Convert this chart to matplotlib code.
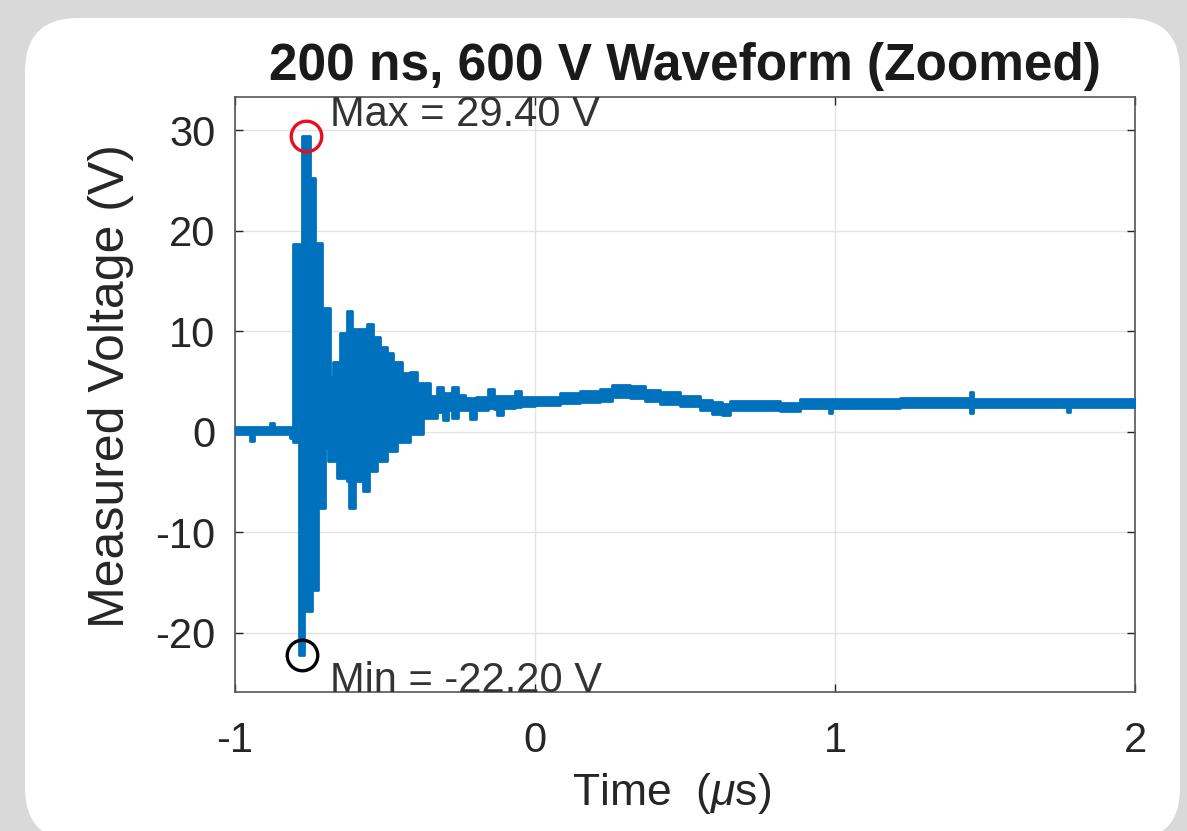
import matplotlib
matplotlib.use('Agg')
import matplotlib.pyplot as plt
from matplotlib.patches import FancyBboxPatch
import numpy as np

# envelope of the measured waveform (step segments)
t_us = [-1.000, -0.950, -0.937, -0.883, -0.870, -0.817, -0.807, -0.787, -0.777, -0.770,
        -0.750, -0.743, -0.733, -0.723, -0.710, -0.700, -0.690, -0.683, -0.673, -0.660,
        -0.650, -0.627, -0.620, -0.610, -0.600, -0.573, -0.560, -0.553, -0.540, -0.527,
        -0.517, -0.493, -0.473, -0.460, -0.443, -0.417, -0.393, -0.373, -0.350, -0.327,
        -0.307, -0.290, -0.277, -0.257, -0.233, -0.217, -0.197, -0.157, -0.137, -0.127,
        -0.107, -0.067, -0.047, 0.000, 0.083, 0.150, 0.217, 0.257, 0.317, 0.367,
        0.417, 0.483, 0.550, 0.590, 0.623, 0.650, 0.750, 0.817, 0.883, 0.980,
        0.990, 1.217, 1.450, 1.460, 1.773, 1.783, 2.000]
v_lo = [-0.25, -0.9, -0.25, -0.25, -0.25, -0.6, -1.0, -22.2, -22.2, -17.8,
        -17.8, -15.8, -15.8, -7.6, -7.6, -1.6, -2.9, -2.9, -2.9, -4.6,
        -4.6, -4.9, -7.6, -7.6, -4.9, -5.9, -5.9, -3.9, -3.9, -2.9,
        -2.9, -1.9, -1.9, -1.0, -1.0, -0.2, -0.2, 1.4, 1.4, 2.0,
        1.2, 2.2, 1.4, 2.2, 2.2, 1.3, 2.2, 2.4, 2.3, 1.7,
        2.4, 2.5, 2.6, 2.7, 2.9, 3.0, 3.1, 3.5, 3.4, 3.1,
        2.8, 2.6, 2.2, 1.8, 1.7, 2.2, 2.2, 2.1, 2.4, 1.9,
        2.4, 2.5, 1.9, 2.5, 2.0, 2.5, 2.5]
v_hi = [0.45, 0.45, 0.45, 0.9, 0.45, 0.45, 18.7, 18.7, 29.4, 29.4,
        25.2, 25.2, 18.8, 18.8, 12.3, 12.3, 12.3, 5.4, 6.9, 6.9,
        9.8, 12.0, 12.0, 10.2, 10.2, 10.2, 10.7, 10.7, 9.4, 9.4,
        8.4, 7.8, 6.9, 6.9, 5.8, 5.9, 4.8, 4.8, 3.6, 4.4,
        3.8, 3.8, 4.4, 3.7, 3.4, 3.4, 3.5, 4.2, 3.6, 3.6,
        3.6, 4.0, 3.5, 3.5, 3.8, 4.0, 4.2, 4.6, 4.5, 4.1,
        3.9, 3.6, 3.2, 3.0, 2.8, 3.1, 3.1, 2.9, 3.3, 3.3,
        3.3, 3.4, 3.9, 3.3, 3.3, 3.3, 3.3]

t_max, v_max = -0.763, 29.40
t_min, v_min = -0.777, -22.20

plt.rcParams['font.family'] = ['Liberation Sans', 'DejaVu Sans']
plt.rcParams['mathtext.fontset'] = 'custom'
plt.rcParams['mathtext.it'] = 'Liberation Sans:italic'
plt.rcParams['mathtext.rm'] = 'Liberation Sans'
plt.rcParams['axes.unicode_minus'] = False

fig = plt.figure(figsize=(11.87, 8.31), dpi=100)
fig.patch.set_facecolor('#d9d9d9')

# white rounded panel behind the axes
panel = FancyBboxPatch((25 / 1187, -10 / 831), (1180 - 25) / 1187, (831 - 18 + 10) / 831,
                       boxstyle='round,pad=0,rounding_size=0.045',
                       transform=fig.transFigure, facecolor='white', edgecolor='none',
                       mutation_aspect=1187 / 831, zorder=-5)
fig.patches.append(panel)

ax = fig.add_axes([235 / 1187, 1 - 692 / 831, 900 / 1187, (692 - 97) / 831])
ax.set_zorder(1)
blue = '#0072BD'
ax.fill_between(t_us, v_lo, v_hi, step='post', facecolor=blue, edgecolor=blue,
                linewidth=2.0, zorder=3)

ax.plot(t_max, v_max, 'o', ms=22, mfc='none', mec='#e8101c', mew=2.4, zorder=4)
ax.plot(t_min, v_min, 'o', ms=22, mfc='none', mec='black', mew=2.4, zorder=4)
ax.text(-0.683, 30.45, 'Max = %.2f V' % v_max, fontsize=30, color='#333333',
        va='baseline', ha='left', zorder=5)
ax.text(-0.683, -25.9, 'Min = %.2f V' % v_min, fontsize=30, color='#333333',
        va='baseline', ha='left', zorder=5)

ax.set_xlim(-1, 2)
ax.set_ylim(-25.9, 33.3)
ax.set_xticks([-1, 0, 1, 2])
ax.set_yticks([-20, -10, 0, 10, 20, 30])
ax.grid(True, color='#e3e3e3', linewidth=1.0, zorder=0)
ax.set_axisbelow(True)
ax.tick_params(direction='in', length=6, width=1, top=True, right=True,
               labelsize=30, colors='#262626')
ax.tick_params(axis='x', pad=21)
ax.tick_params(axis='y', pad=14)
for s in ax.spines.values():
    s.set_color('#555555')
    s.set_linewidth(1.2)

ax.set_title('200 ns, 600 V Waveform (Zoomed)', fontsize=37, fontweight='bold',
             color='#1a1a1a', pad=12)
ax.set_xlabel('Time  ($\\mu$s)', fontsize=32, color='#262626', labelpad=7)
ax.set_ylabel('Measured Voltage (V)', fontsize=36, color='#262626', labelpad=15)
ax.xaxis.label.set_x(0.485)
ax.yaxis.label.set_y(0.514)

plt.savefig('out.png', dpi=100, facecolor=fig.get_facecolor())
plt.close()
